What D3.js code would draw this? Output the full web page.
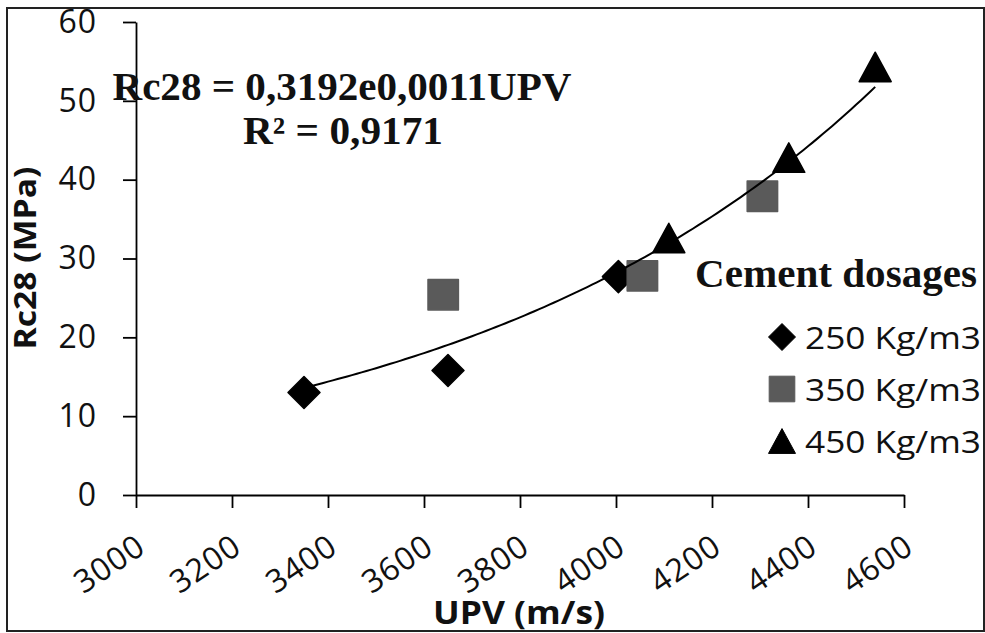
<!DOCTYPE html>
<html>
<head>
<meta charset="utf-8">
<script src="https://cdn.jsdelivr.net/npm/d3@7.9.0/dist/d3.min.js"></script>
<style>
  html, body { margin: 0; padding: 0; background: #fff; }
  svg { display: block; }
  .tick text { font-family: "Open Sans", sans-serif; }
</style>
</head>
<body>
<svg id="chart" width="985" height="633"></svg>
<script>
// data
const seriesNames = ['250 Kg/m3', '350 Kg/m3', '450 Kg/m3'];
const upv250 = [3350, 3650, 4005];
const rc250 = [13.0, 15.8, 27.7];
const upv350 = [3640, 4055, 4305];
const rc350 = [25.4, 27.8, 37.9];
const upv450 = [4110, 4360, 4540];
const rc450 = [32.6, 42.8, 54.3];
const xTicks = [3000, 3200, 3400, 3600, 3800, 4000, 4200, 4400, 4600];
const yTicks = [0, 10, 20, 30, 40, 50, 60];
const equationText = 'Rc28 = 0,3192e0,0011UPV';
const r2Text = 'R² = 0,9171';

const series = [
  { name: seriesNames[0], xs: upv250, ys: rc250, shape: 'diamond', color: '#000' },
  { name: seriesNames[1], xs: upv350, ys: rc350, shape: 'square', color: '#5a5a5a' },
  { name: seriesNames[2], xs: upv450, ys: rc450, shape: 'triangle', color: '#000' }
];

const svg = d3.select('#chart');

// outer frame
svg.append('rect')
  .attr('x', 7).attr('y', 8).attr('width', 977).attr('height', 623)
  .attr('fill', '#fff').attr('stroke', '#222').attr('stroke-width', 2);

const x = d3.scaleLinear().domain([3000, 4600]).range([136, 904]);
const y = d3.scaleLinear().domain([0, 60]).range([495, 22]);

// y axis
const yAxis = svg.append('g')
  .attr('transform', 'translate(136,0)')
  .call(d3.axisLeft(y).tickValues(yTicks).tickFormat(d3.format('d'))
    .tickSize(13).tickSizeOuter(0).tickPadding(26));
yAxis.selectAll('path, line').attr('stroke', '#000').attr('stroke-width', 1.8);
yAxis.selectAll('text')
  .attr('font-size', 32).attr('fill', '#111').attr('letter-spacing', 1)
  .attr('font-family', '"Open Sans", sans-serif');

// x axis
const xAxis = svg.append('g')
  .attr('transform', 'translate(0,495)')
  .call(d3.axisBottom(x).tickValues(xTicks).tickFormat(d3.format('d'))
    .tickSize(13).tickSizeOuter(0));
xAxis.selectAll('path, line').attr('stroke', '#000').attr('stroke-width', 1.8);
xAxis.selectAll('text')
  .attr('y', null).attr('dy', null)
  .attr('font-size', 32).attr('fill', '#111').attr('letter-spacing', 1)
  .attr('font-family', '"Open Sans", sans-serif')
  .attr('text-anchor', 'end')
  .attr('dominant-baseline', 'central')
  .attr('transform', 'translate(4,46) rotate(-34)');

// axis titles
svg.append('text')
  .attr('x', 519).attr('y', 624)
  .attr('text-anchor', 'middle')
  .attr('font-family', '"Open Sans", sans-serif').attr('font-weight', 'bold')
  .attr('font-size', 33).attr('fill', '#111')
  .attr('textLength', 172).attr('lengthAdjust', 'spacingAndGlyphs')
  .text('UPV (m/s)');

svg.append('text')
  .attr('transform', 'translate(36,258) rotate(-90)')
  .attr('text-anchor', 'middle')
  .attr('font-family', '"Open Sans", sans-serif').attr('font-weight', 'bold')
  .attr('font-size', 31).attr('fill', '#111')
  .attr('textLength', 183).attr('lengthAdjust', 'spacingAndGlyphs')
  .text('Rc28 (MPa)');

// marker shapes
function markerPath(shape, s) {
  if (shape === 'diamond') return `M0,${-s}L${s},0L0,${s}L${-s},0Z`;
  if (shape === 'square') return `M${-s * 0.95},${-s * 0.95}H${s * 0.95}V${s * 0.95}H${-s * 0.95}Z`;
  return `M0,${-s * 0.92}L${s},${s * 0.92}L${-s},${s * 0.92}Z`;
}

// points
series.forEach(sr => {
  svg.append('g').selectAll('path')
    .data(sr.xs.map((v, i) => ({ upv: v, rc: sr.ys[i] })))
    .enter()
    .append('path')
    .attr('transform', d => `translate(${x(d.upv)},${y(d.rc)})`)
    .attr('d', markerPath(sr.shape, 16))
    .attr('fill', sr.color)
    .attr('stroke', sr.color)
    .attr('stroke-width', 1.5)
    .attr('stroke-linejoin', 'round');
});

// exponential trendline, least squares on ln(Rc28)
const allPts = series.flatMap(sr => sr.xs.map((v, i) => [v, sr.ys[i]]));
const mx = d3.mean(allPts, p => p[0]);
const my = d3.mean(allPts, p => Math.log(p[1]));
const b = d3.sum(allPts, p => (p[0] - mx) * (Math.log(p[1]) - my)) /
  d3.sum(allPts, p => (p[0] - mx) ** 2);
const a = Math.exp(my - b * mx);
const [xmin, xmax] = d3.extent(allPts, p => p[0]);
const trend = d3.range(xmin, xmax + 1, 10).map(v => [v, a * Math.exp(b * v)]);

svg.append('path')
  .datum(trend)
  .attr('fill', 'none')
  .attr('stroke', '#000')
  .attr('stroke-width', 2)
  .attr('d', d3.line().x(d => x(d[0])).y(d => y(d[1])));

// equation label
svg.append('text')
  .attr('x', 342).attr('y', 100)
  .attr('text-anchor', 'middle')
  .attr('font-family', '"Liberation Serif", serif').attr('font-weight', 'bold')
  .attr('font-size', 39).attr('fill', '#111')
  .attr('textLength', 459).attr('lengthAdjust', 'spacingAndGlyphs')
  .text(equationText);
svg.append('text')
  .attr('x', 343).attr('y', 144)
  .attr('text-anchor', 'middle')
  .attr('font-family', '"Liberation Serif", serif').attr('font-weight', 'bold')
  .attr('font-size', 39).attr('fill', '#111')
  .attr('textLength', 200).attr('lengthAdjust', 'spacingAndGlyphs')
  .text(r2Text);

// legend
svg.append('text')
  .attr('x', 695).attr('y', 287)
  .attr('font-family', '"Liberation Serif", serif').attr('font-weight', 'bold')
  .attr('font-size', 39).attr('fill', '#111')
  .attr('textLength', 282).attr('lengthAdjust', 'spacingAndGlyphs')
  .text('Cement dosages');

const legend = svg.append('g');
series.forEach((sr, i) => {
  const cy = 337 + i * 52;
  legend.append('path')
    .attr('transform', `translate(782,${cy})`)
    .attr('d', markerPath(sr.shape, 13.5))
    .attr('fill', sr.color)
    .attr('stroke', sr.color)
    .attr('stroke-width', 1)
    .attr('stroke-linejoin', 'round');
  legend.append('text')
    .attr('x', 805).attr('y', cy)
    .attr('dominant-baseline', 'central')
    .attr('font-family', '"Open Sans", sans-serif')
    .attr('font-size', 31).attr('fill', '#111')
    .attr('textLength', 176).attr('lengthAdjust', 'spacingAndGlyphs')
    .text(sr.name);
});
</script>
</body>
</html>
